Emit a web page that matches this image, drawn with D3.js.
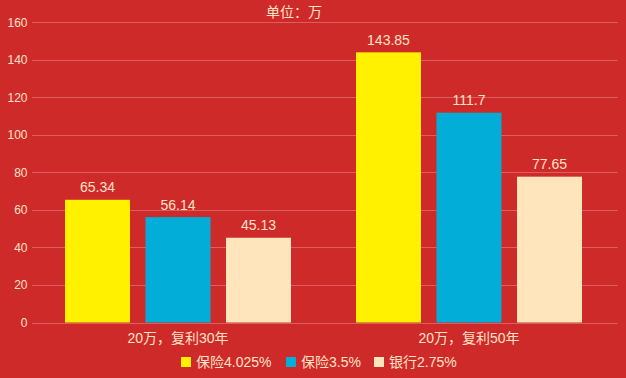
<!DOCTYPE html>
<html><head><meta charset="utf-8">
<script src="https://cdn.jsdelivr.net/npm/d3@7"></script>
<style>html,body{margin:0;padding:0;background:#cf2a2a;}svg{display:block;}</style>
</head><body><svg id="c" width="626" height="378"></svg>
<script>
const categories = ["20万，复利30年", "20万，复利50年"];
const seriesNames = ["保险4.025%", "保险3.5%", "银行2.75%"];
const seriesColors = ["#fff100", "#02aed8", "#ffe5bc"];
const values = [
  [65.34, 143.85],
  [56.14, 111.7],
  [45.13, 77.65]
];
const yTicks = [0, 20, 40, 60, 80, 100, 120, 140, 160];
const title = "单位：万";

(function () {
const W = 626, H = 378;
const gLeft = 32, gRight = 617.7, mTop = 22, mBottom = 322.5;
const bandLeft = 32.5, bandRight = 614.5;
const textColor = "#ffe2c6";
const gridColor = "rgba(255,255,255,0.25)";
const font = "'Liberation Sans','Noto Sans CJK SC',sans-serif";

const svg = d3.select("#c");
svg.append("rect").attr("width", W).attr("height", H).attr("fill", "#cf2a2a");

const y = d3.scaleLinear().domain([0, 160]).range([mBottom, mTop]);
const x0 = d3.scaleBand().domain(categories).range([bandLeft, bandRight]).padding(0);
const groupW = 226;
const x1 = d3.scaleBand().domain(seriesNames).range([0, groupW]).paddingInner(15.5 / 80.5).paddingOuter(0);

// grid
svg.append("g").selectAll("line").data(yTicks).join("line")
  .attr("x1", gLeft).attr("x2", gRight)
  .attr("y1", d => Math.round(y(d)) + 0.5).attr("y2", d => Math.round(y(d)) + 0.5)
  .attr("stroke", gridColor).attr("stroke-width", 1);

// y tick labels
svg.append("g").selectAll("text").data(yTicks).join("text")
  .attr("x", gLeft - 4.5).attr("y", d => y(d) + 4.5)
  .attr("text-anchor", "end").attr("fill", textColor)
  .attr("font-family", font).attr("font-size", 12).text(d => d);

// bars
const groups = svg.append("g").selectAll("g").data(categories).join("g")
  .attr("transform", c => `translate(${x0(c) + (x0.bandwidth() - groupW) / 2},0)`);

groups.each(function (c, ci) {
  const g = d3.select(this);
  seriesNames.forEach((s, si) => {
    const v = values[si][ci];
    g.append("rect")
      .attr("x", x1(s)).attr("width", x1.bandwidth())
      .attr("y", y(v)).attr("height", y(0) - y(v))
      .attr("fill", seriesColors[si]);
    g.append("text")
      .attr("x", x1(s) + x1.bandwidth() / 2).attr("y", y(v) - 7.5)
      .attr("text-anchor", "middle").attr("fill", textColor)
      .attr("font-family", font).attr("font-size", 14).text(v);
  });
});

// category labels
svg.append("g").selectAll("text").data(categories).join("text")
  .attr("x", c => x0(c) + x0.bandwidth() / 2).attr("y", 343)
  .attr("text-anchor", "middle").attr("fill", textColor)
  .attr("font-family", font).attr("font-size", 14).text(c => c);

// title
svg.append("text").attr("x", 294).attr("y", 16.5)
  .attr("text-anchor", "middle").attr("fill", textColor)
  .attr("font-family", font).attr("font-size", 14).text(title);

// legend
const legendX = [181, 286, 374];
const lg = svg.append("g").selectAll("g").data(seriesNames).join("g")
  .attr("transform", (d, i) => `translate(${legendX[i]},357)`);
lg.append("rect").attr("width", 10).attr("height", 10).attr("fill", (d, i) => seriesColors[i]);
lg.append("text").attr("x", 15).attr("y", 10).attr("fill", textColor)
  .attr("font-family", font).attr("font-size", 14).text(d => d);
})();
</script></body></html>
